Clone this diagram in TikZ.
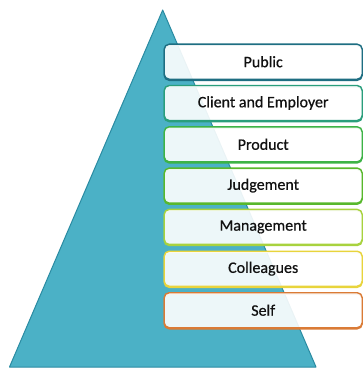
\documentclass[tikz,border=0pt]{standalone}
\usepackage{fontspec}
\setmainfont{Carlito}
\newfontfamily\lvlfont[FakeBold=0.6]{Carlito}
\definecolor{tri}{HTML}{4BB1C6}
\definecolor{triedge}{HTML}{2A8BA2}
\definecolor{cPublic}{HTML}{1E6E82}
\definecolor{cClient}{HTML}{2A9E7C}
\definecolor{cProduct}{HTML}{3DB346}
\definecolor{cJudge}{HTML}{58B82C}
\definecolor{cManage}{HTML}{A8D23E}
\definecolor{cColl}{HTML}{E8D43C}
\definecolor{cSelf}{HTML}{DA7B36}
\definecolor{txt}{HTML}{111111}
\begin{document}
\begin{tikzpicture}[x=1pt,y=-1pt,
  level/.style={draw=#1, line width=1.4pt, rounded corners=5pt,
    preaction={draw=#1, line width=1.4pt, transform canvas={yshift=-1.1pt}},
    fill=white, fill opacity=0.9, text opacity=1,
    minimum width=198pt, minimum height=35pt, inner sep=0pt,
    anchor=north west, font=\lvlfont\fontsize{16}{18}\selectfont, text=txt}]
\useasboundingbox (0,0) rectangle (363,369);
\coordinate (apex) at (162.7,10);
\coordinate (bl) at (9.5,367);
\coordinate (br) at (316,367);
\filldraw[fill=tri, draw=triedge, line width=1pt, line join=round] (apex) -- (br) -- (bl) -- cycle;
\node[level=cPublic]  (public) at (163.5,43.5)  {Public};
\node[level=cClient]  (client) at (163.5,84.8)  {Client and Employer};
\node[level=cProduct] (product) at (163.5,126.1) {Product};
\node[level=cJudge]   (judge) at (163.5,167.4) {Judgement};
\node[level=cManage]  (manage) at (163.5,208.7) {Management};
\node[level=cColl]    (coll) at (163.5,250.5) {Colleagues};
\node[level=cSelf]    (self) at (163.5,292)   {Self};
\end{tikzpicture}
\end{document}
